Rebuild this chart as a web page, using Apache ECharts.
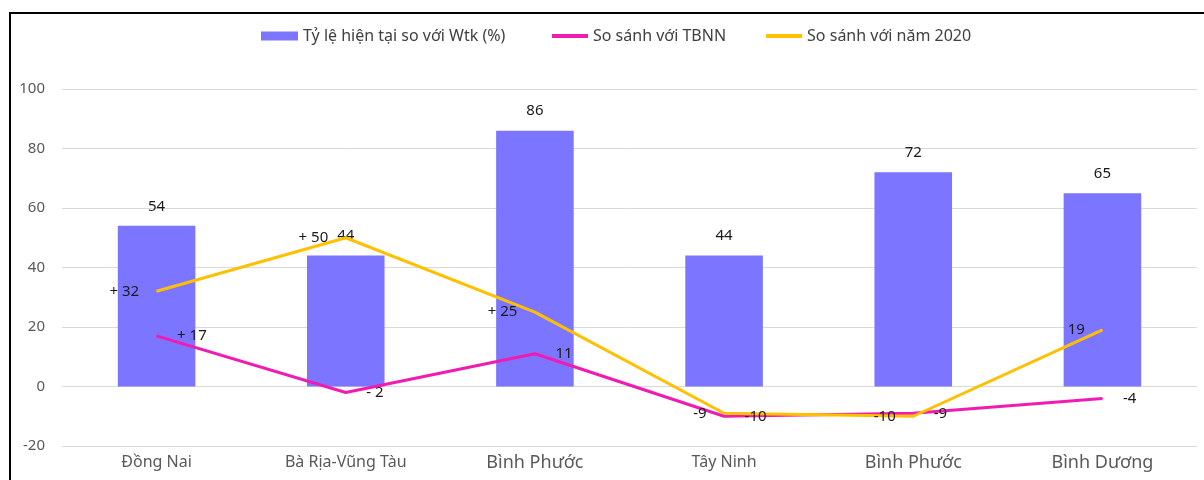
<!DOCTYPE html>
<html>
<head>
<meta charset="utf-8">
<script src="https://cdn.jsdelivr.net/npm/echarts@6/dist/echarts.min.js"></script>
<style>
  html, body { margin: 0; padding: 0; background: #fff; }
  .wrap { position: relative; width: 1204px; height: 480px; overflow: hidden; }
  .frame { position: absolute; left: 9px; top: 12px; width: 1400px; height: 600px; border: 2px solid #000; }
  #chart { position: absolute; left: 0; top: 0; width: 1204px; height: 480px; }
</style>
</head>
<body>
<div class="wrap">
  <div class="frame"></div>
  <div id="chart"></div>
</div>
<script>
// danh mục tỉnh
const categories = ["Đồng Nai", "Bà Rịa-Vũng Tàu", "Bình Phước", "Tây Ninh", "Bình Phước", "Bình Dương"];
// cỡ chữ nhãn trục x (nhỏ / to)
const bigLabel = [false, false, true, false, true, true];

const rateValues = [54, 44, 86, 44, 72, 65];
const tbnnValues = [17, -2, 11, -10, -9, -4];
const y2020Values = [32, 50, 25, -9, -10, 19];

const tbnnLabels = ["+ 17", "- 2", "11", "-10", "-9", "-4"];
const y2020Labels = ["+ 32", "+ 50", "+ 25", "-9", "-10", "19"];

const yTicks = { min: -20, max: 100, interval: 20 };

const FONT = "Noto Sans";
const PURPLE = "#7B75FF";
const PINK = "#F01CB2";
const GOLD = "#FFC000";

let myecharts = echarts.init(document.getElementById("chart"));
myecharts.setOption({
  animation: false,
  textStyle: { fontFamily: FONT },
  legend: [
    {
      data: [{ name: "Tỷ lệ hiện tại so với Wtk (%)", icon: "rect" }],
      left: 256,
      top: 23,
      itemWidth: 37,
      itemHeight: 9,
      textStyle: { fontSize: 16, color: "#404040", fontFamily: FONT },
    },
    {
      data: [
        { name: "So sánh với TBNN", icon: "rect" },
        { name: "So sánh với năm 2020", icon: "rect" },
      ],
      left: 547,
      top: 23,
      itemWidth: 36,
      itemHeight: 4,
      itemGap: 40,
      textStyle: { fontSize: 16, color: "#404040", fontFamily: FONT },
    },
  ],
  grid: { left: 62, right: 7, top: 89, bottom: 34 },
  xAxis: {
    type: "category",
    data: categories,
    axisLine: { show: false },
    axisTick: { show: false },
    axisLabel: {
      margin: 8,
      formatter: function (v, i) {
        return bigLabel[i] ? "{b|" + v + "}" : "{s|" + v + "}";
      },
      rich: {
        s: { fontSize: 16, color: "#595959", fontFamily: FONT },
        b: { fontSize: 18, color: "#595959", fontFamily: FONT },
      },
    },
  },
  yAxis: {
    type: "value",
    min: yTicks.min,
    max: yTicks.max,
    interval: yTicks.interval,
    axisLabel: { fontSize: 15, color: "#595959", margin: 17 },
    splitLine: { lineStyle: { color: "#D9D9D9", width: 1 } },
  },
  series: [
    {
      name: "Tỷ lệ hiện tại so với Wtk (%)",
      type: "bar",
      data: rateValues,
      barWidth: "41%",
      itemStyle: { color: PURPLE },
      label: { show: true, position: "top", distance: 12, fontSize: 15, color: "#1a1a1a" },
    },
    {
      name: "So sánh với TBNN",
      type: "line",
      data: tbnnValues,
      symbol: "circle",
      symbolSize: 1,
      itemStyle: { color: PINK },
      lineStyle: { color: PINK, width: 3 },
      label: {
        show: true,
        position: "right",
        distance: 20,
        fontSize: 15,
        color: "#1a1a1a",
        formatter: (p) => tbnnLabels[p.dataIndex],
      },
    },
    {
      name: "So sánh với năm 2020",
      type: "line",
      data: y2020Values,
      symbol: "circle",
      symbolSize: 1,
      itemStyle: { color: GOLD },
      lineStyle: { color: GOLD, width: 3 },
      label: {
        show: true,
        position: "left",
        distance: 17,
        fontSize: 15,
        color: "#1a1a1a",
        formatter: (p) => y2020Labels[p.dataIndex],
      },
    },
  ],
});
</script>
</body>
</html>
